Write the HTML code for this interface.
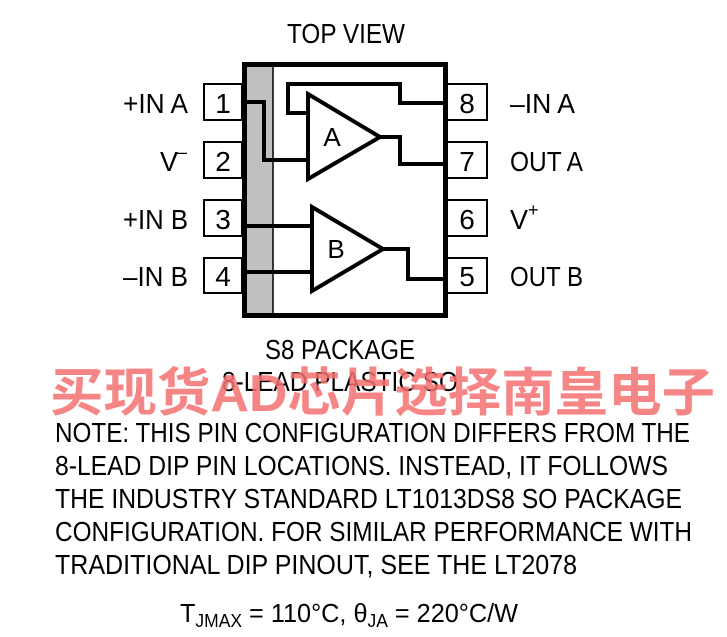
<!DOCTYPE html>
<html><head><meta charset="utf-8"><style>
html,body{margin:0;padding:0;background:#fff;}
svg{display:block;}
text{font-family:"Liberation Sans",sans-serif;fill:#000;}
</style></head><body>
<svg width="727" height="637" viewBox="0 0 727 637" xmlns="http://www.w3.org/2000/svg">
<text x="287" y="43" font-size="28" textLength="118" lengthAdjust="spacingAndGlyphs">TOP VIEW</text>
<g fill="#fff" stroke="#000" stroke-width="2">
<rect x="204" y="84" width="38" height="36"/>
<rect x="204" y="142" width="38" height="36"/>
<rect x="204" y="200" width="38" height="36"/>
<rect x="204" y="258" width="38" height="35"/>
<rect x="447" y="84" width="40" height="36"/>
<rect x="447" y="142" width="40" height="36"/>
<rect x="447" y="200" width="40" height="36"/>
<rect x="447" y="258" width="40" height="35"/>
</g>
<g font-size="28" text-anchor="middle">
<text x="223" y="113">1</text><text x="223" y="171">2</text><text x="223" y="229">3</text><text x="223" y="286">4</text>
<text x="467" y="113">8</text><text x="467" y="171">7</text><text x="467" y="229">6</text><text x="467" y="286">5</text>
</g>
<rect x="247" y="66" width="26" height="247" fill="#c0c0c0"/>
<rect x="244.5" y="64.5" width="201" height="251" fill="none" stroke="#000" stroke-width="5"/>
<line x1="273" y1="66" x2="273" y2="313" stroke="#000" stroke-width="1.5"/>
<g fill="none" stroke="#000" stroke-width="4">
<polygon points="308,94 380,137 308,179"/>
<polygon points="312,207 383,249 312,291"/>
<polyline points="247,102 264,102 264,160 308,160"/>
<polyline points="308,113 288,113 288,84 400,84 400,103 446,103"/>
<polyline points="380,137 400,137 400,164 446,164"/>
<polyline points="247,226 312,226"/>
<polyline points="247,272 312,272"/>
<polyline points="383,249 408,249 408,279 446,279"/>
</g>
<text x="332" y="146" font-size="26" text-anchor="middle">A</text>
<text x="336" y="258" font-size="26" text-anchor="middle">B</text>
<g font-size="28">
<text x="123" y="113" textLength="65" lengthAdjust="spacingAndGlyphs">+IN A</text>
<text x="160" y="171" textLength="18" lengthAdjust="spacingAndGlyphs">V</text><text x="177" y="158" font-size="18">–</text>
<text x="123" y="229" textLength="65" lengthAdjust="spacingAndGlyphs">+IN B</text>
<text x="123" y="286" textLength="65" lengthAdjust="spacingAndGlyphs">–IN B</text>
<text x="510" y="113" textLength="65" lengthAdjust="spacingAndGlyphs">–IN A</text>
<text x="510" y="171" textLength="73" lengthAdjust="spacingAndGlyphs">OUT A</text>
<text x="510" y="229" textLength="18" lengthAdjust="spacingAndGlyphs">V</text><text x="528" y="216" font-size="18">+</text>
<text x="510" y="286" textLength="73" lengthAdjust="spacingAndGlyphs">OUT B</text>
<text x="265" y="359" textLength="150" lengthAdjust="spacingAndGlyphs">S8 PACKAGE</text>
<text x="222" y="391" textLength="236" lengthAdjust="spacingAndGlyphs">8-LEAD PLASTIC SO</text>
<text x="55" y="442" textLength="635" lengthAdjust="spacingAndGlyphs">NOTE: THIS PIN CONFIGURATION DIFFERS FROM THE</text>
<text x="55" y="475" textLength="613" lengthAdjust="spacingAndGlyphs">8-LEAD DIP PIN LOCATIONS. INSTEAD, IT FOLLOWS</text>
<text x="55" y="508" textLength="627" lengthAdjust="spacingAndGlyphs">THE INDUSTRY STANDARD LT1013DS8 SO PACKAGE</text>
<text x="55" y="541" textLength="637" lengthAdjust="spacingAndGlyphs">CONFIGURATION. FOR SIMILAR PERFORMANCE WITH</text>
<text x="55" y="574" textLength="522" lengthAdjust="spacingAndGlyphs">TRADITIONAL DIP PINOUT, SEE THE LT2078</text>
</g>
<g font-size="26">
<text x="180" y="622" textLength="338" lengthAdjust="spacingAndGlyphs">T<tspan font-size="18" dy="5">JMAX</tspan><tspan dy="-5"> = 110°C, θ</tspan><tspan font-size="18" dy="5">JA</tspan><tspan dy="-5"> = 220°C/W</tspan></text>
</g>
<text x="50" y="411" font-size="52" font-weight="bold" textLength="665" lengthAdjust="spacingAndGlyphs" style="font-family:'Liberation Sans','Noto Sans CJK SC',sans-serif;fill:#f47070;fill-opacity:0.85">买现货AD芯片选择南皇电子</text>
</svg>
</body></html>
